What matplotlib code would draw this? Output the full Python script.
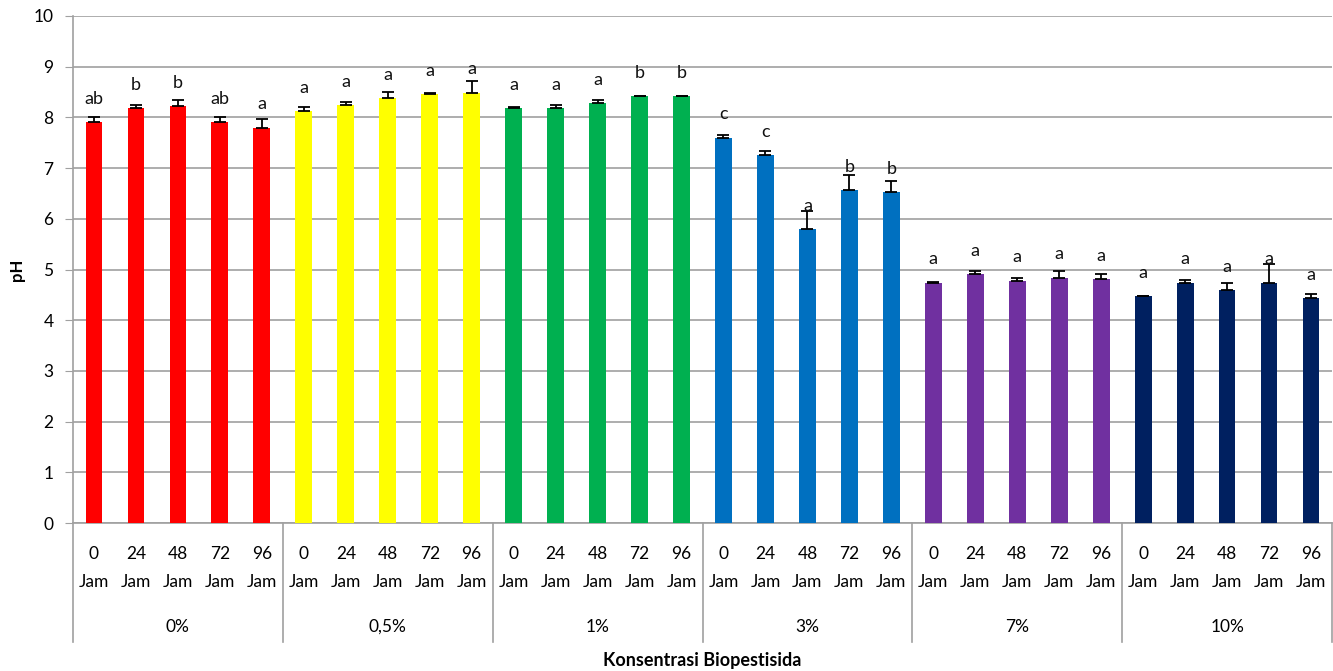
import matplotlib.pyplot as plt
import numpy as np

plt.rcParams['font.family'] = ['Lato', 'DejaVu Sans']

# pH per konsentrasi, tiap grup 0/24/48/72/96 jam
konsentrasi = ['0%', '0,5%', '1%', '3%', '7%', '10%']
waktu = ['0', '24', '48', '72', '96']
warna = ['#FF0000', '#FFFF00', '#00B050', '#0070C0', '#7030A0', '#002060']

ph = [
    [7.91, 8.18, 8.22, 7.91, 7.80],
    [8.12, 8.25, 8.38, 8.46, 8.49],
    [8.18, 8.18, 8.28, 8.42, 8.42],
    [7.60, 7.25, 5.80, 6.56, 6.52],
    [4.74, 4.91, 4.78, 4.84, 4.81],
    [4.47, 4.74, 4.60, 4.74, 4.44],
]
sd = [
    [0.09, 0.07, 0.12, 0.09, 0.17],
    [0.08, 0.05, 0.13, 0.02, 0.23],
    [0.02, 0.07, 0.06, 0.01, 0.01],
    [0.06, 0.09, 0.36, 0.30, 0.23],
    [0.02, 0.06, 0.06, 0.13, 0.10],
    [0.01, 0.06, 0.13, 0.36, 0.07],
]
notasi = [
    ['ab', 'b', 'b', 'ab', 'a'],
    ['a', 'a', 'a', 'a', 'a'],
    ['a', 'a', 'a', 'b', 'b'],
    ['c', 'c', 'a', 'b', 'b'],
    ['a', 'a', 'a', 'a', 'a'],
    ['a', 'a', 'a', 'a', 'a'],
]

fig = plt.figure(figsize=(13.33, 6.71), dpi=100)
ax = fig.add_axes([73 / 1333, 1 - 523 / 671, 1259 / 1333, 507 / 671])

grid_c = '#A0A0A0'
fs = 12.5
n = len(waktu)
for g in range(len(konsentrasi)):
    x = np.arange(n) + g * n
    v = np.array(ph[g])
    e = np.array(sd[g])
    ax.bar(x, v, width=0.4, color=warna[g], zorder=3)
    ax.errorbar(x, v, yerr=[np.zeros(n), e], fmt='none', ecolor='black',
                elinewidth=1.3, capsize=4, capthick=1.3, zorder=4)
    for i in range(n):
        ax.text(x[i], v[i] + 0.3, notasi[g][i], ha='center', va='bottom',
                fontsize=13, color='#111111', zorder=5)

ax.set_xlim(-0.5, len(konsentrasi) * n - 0.5)
ax.set_ylim(0, 10)
ax.set_yticks(range(0, 11))
ax.yaxis.grid(True, color=grid_c, linewidth=1.2, zorder=0)
ax.set_axisbelow(True)
for s in ['top', 'right']:
    ax.spines[s].set_visible(False)
for s in ['left', 'bottom']:
    ax.spines[s].set_color(grid_c)
    ax.spines[s].set_linewidth(1.2)
ax.tick_params(axis='y', length=6, color=grid_c, labelsize=fs, pad=8)
ax.set_xticks([])

# label kategori dua tingkat di bawah sumbu
trans = ax.get_xaxis_transform()
for g in range(len(konsentrasi)):
    for i in range(n):
        xi = g * n + i
        ax.text(xi, -0.061, waktu[i], transform=trans, ha='center', va='center',
                fontsize=fs)
        ax.text(xi, -0.116, 'Jam', transform=trans, ha='center', va='center',
                fontsize=fs)
    ax.text(g * n + (n - 1) / 2, -0.205, konsentrasi[g], transform=trans,
            ha='center', va='center', fontsize=fs)
for b in np.arange(len(konsentrasi) + 1) * n - 0.5:
    ax.plot([b, b], [0, -0.235], transform=trans, color=grid_c,
            linewidth=1.2, clip_on=False)

ax.set_ylabel('pH', fontsize=12, fontweight='bold')
ax.yaxis.set_label_coords(-0.038, 0.5)
ax.text(0.5, -0.272, 'Konsentrasi Biopestisida', transform=ax.transAxes,
        ha='center', va='center', fontsize=13, fontweight='bold')

fig.savefig('out.png', dpi=100)
